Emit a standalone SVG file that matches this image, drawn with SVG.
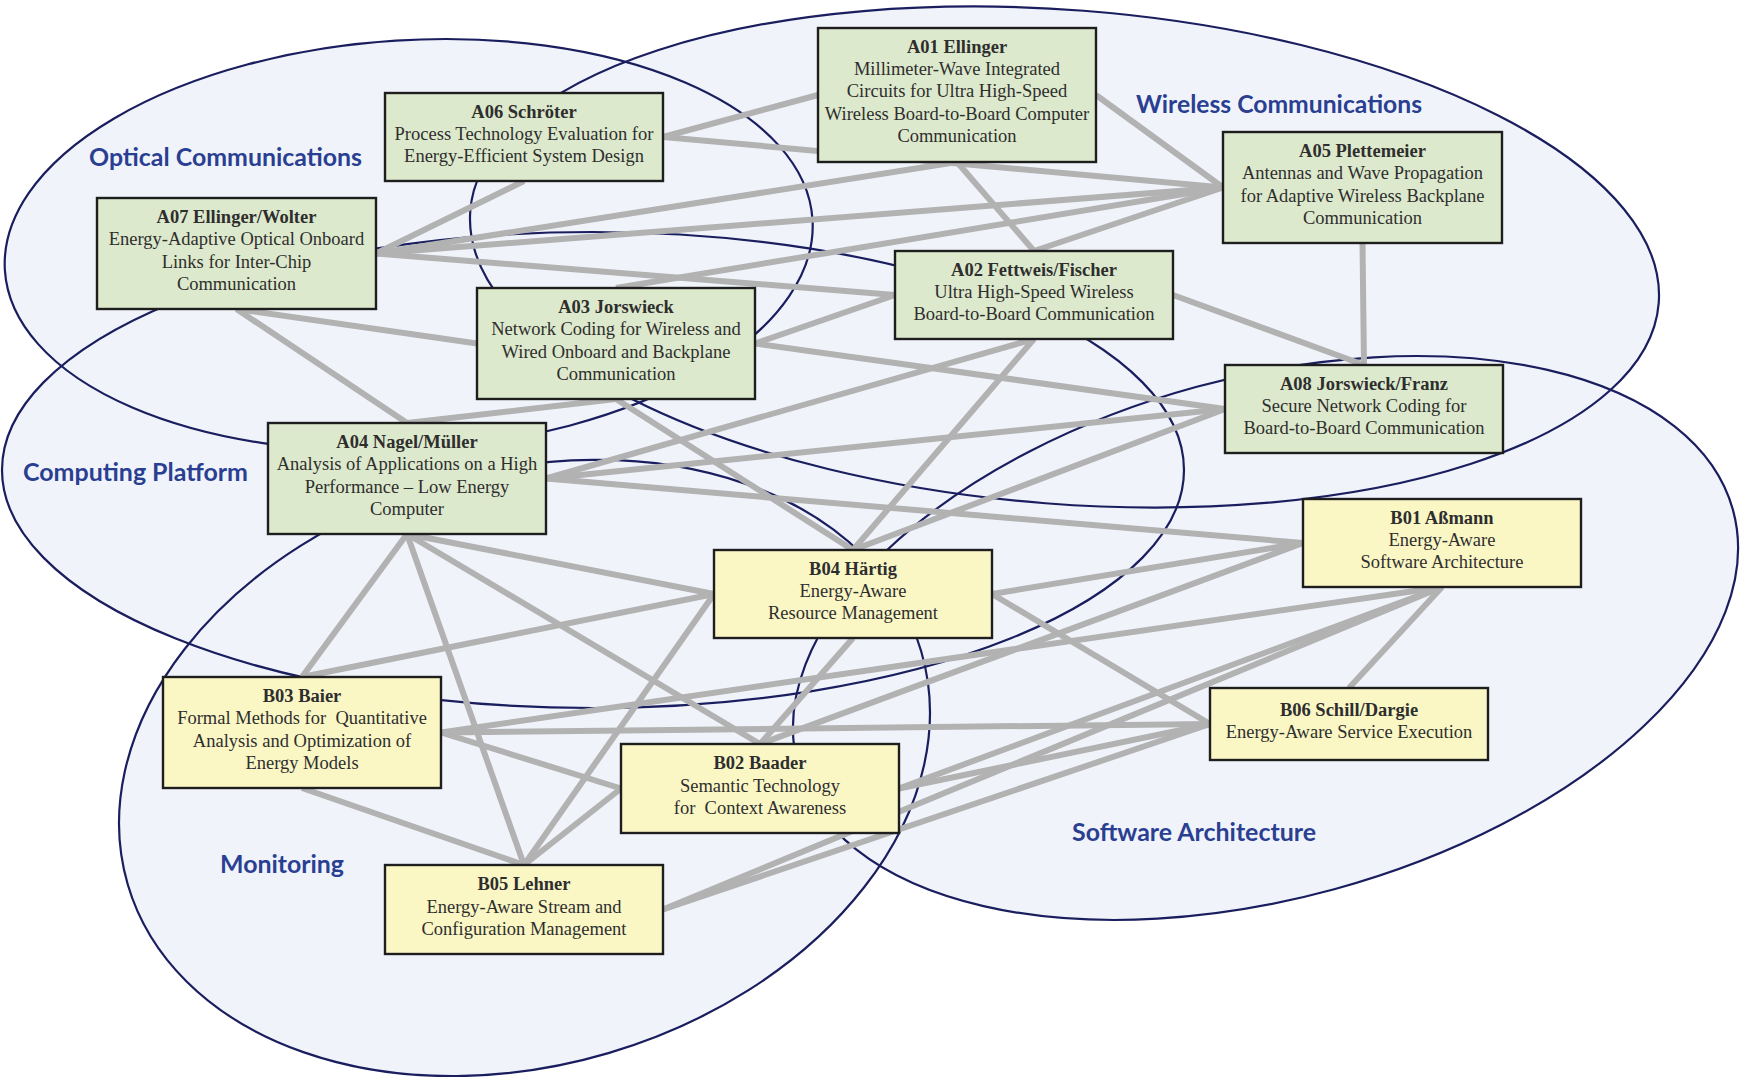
<svg xmlns="http://www.w3.org/2000/svg" width="1740" height="1077" viewBox="0 0 1740 1077">
  <style>
    .area { fill: #f0f4fa; stroke: none; }
    .rim { fill: none; stroke: #1b1e5e; stroke-width: 2.2; }
    .area-label { font-family: Lato, "Open Sans", sans-serif; font-weight: bold; font-size: 24px; fill: #2a3f92; }
    .link { stroke: #b2b2b2; stroke-width: 6; fill: none; }
    .box { stroke: #1e1e1e; stroke-width: 2.4; }
    .a { fill: #dde9cc; }
    .b { fill: #faf7c5; }
    .txt { font-family: "Liberation Serif", "Times New Roman", serif; font-size: 18.5px; fill: #2e2e2e; text-anchor: middle; }
    .ttl { font-weight: bold; }
  </style>
  <defs>
    <ellipse id="e-optical" cx="408.7" cy="245" rx="404.6" ry="204.8" transform="rotate(-3.6 408.7 245)"/>
    <ellipse id="e-wireless" cx="1064.5" cy="257" rx="596" ry="247" transform="rotate(4.44 1064.5 257)"/>
    <ellipse id="e-computing" cx="593" cy="470" rx="591" ry="238"/>
    <ellipse id="e-software" cx="1265.5" cy="638" rx="484.7" ry="260.5" transform="rotate(-15.3 1265.5 638)"/>
    <ellipse id="e-monitoring" cx="524.5" cy="768" rx="413.5" ry="297.2" transform="rotate(-16.4 524.5 768)"/>
  </defs>

  <rect width="1740" height="1077" fill="#ffffff"/>

  <!-- research areas: fills first, then outlines so every rim stays visible -->
  <g id="areas">
    <use href="#e-optical" class="area"/>
    <use href="#e-wireless" class="area"/>
    <use href="#e-computing" class="area"/>
    <use href="#e-software" class="area"/>
    <use href="#e-monitoring" class="area"/>
    <use href="#e-optical" class="rim"/>
    <use href="#e-wireless" class="rim"/>
    <use href="#e-computing" class="rim"/>
    <use href="#e-software" class="rim"/>
    <use href="#e-monitoring" class="rim"/>
  </g>

  <g id="area-labels">
    <text class="area-label" x="89" y="165.5" textLength="273" lengthAdjust="spacingAndGlyphs">Optical Communications</text>
    <text class="area-label" x="1136" y="112.5" textLength="286" lengthAdjust="spacingAndGlyphs">Wireless Communications</text>
    <text class="area-label" x="23" y="480.5" textLength="225" lengthAdjust="spacingAndGlyphs">Computing Platform</text>
    <text class="area-label" x="220" y="873" textLength="124" lengthAdjust="spacingAndGlyphs">Monitoring</text>
    <text class="area-label" x="1072" y="841" textLength="244" lengthAdjust="spacingAndGlyphs">Software Architecture</text>
  </g>

  <!-- project cooperations -->
  <g id="connectors" class="link">
    <line x1="663" y1="137" x2="818" y2="95"/>
    <line x1="663" y1="137" x2="1223" y2="187.5"/>
    <line x1="524" y1="181" x2="376" y2="253.5"/>
    <line x1="376" y1="253.5" x2="957" y2="162"/>
    <line x1="376" y1="253.5" x2="1223" y2="187.5"/>
    <line x1="376" y1="253.5" x2="895" y2="295"/>
    <line x1="236.5" y1="309" x2="477" y2="343.5"/>
    <line x1="236.5" y1="309" x2="407" y2="423"/>
    <line x1="957" y1="162" x2="1034" y2="251"/>
    <line x1="1096" y1="95" x2="1223" y2="187.5"/>
    <line x1="616" y1="288" x2="1223" y2="187.5"/>
    <line x1="1034" y1="251" x2="1223" y2="187.5"/>
    <line x1="1362.5" y1="243" x2="1364" y2="365"/>
    <line x1="1173" y1="295" x2="1364" y2="365"/>
    <line x1="755" y1="343.5" x2="895" y2="295"/>
    <line x1="755" y1="343.5" x2="1225" y2="409"/>
    <line x1="616" y1="399" x2="853" y2="550"/>
    <line x1="407" y1="423" x2="616" y2="399"/>
    <line x1="546" y1="478.5" x2="1034" y2="339"/>
    <line x1="546" y1="478.5" x2="1225" y2="409"/>
    <line x1="546" y1="478.5" x2="1303" y2="543"/>
    <line x1="1034" y1="339" x2="853" y2="550"/>
    <line x1="1225" y1="409" x2="853" y2="550"/>
    <line x1="407" y1="534" x2="302" y2="677"/>
    <line x1="407" y1="534" x2="714" y2="594"/>
    <line x1="407" y1="534" x2="760" y2="744"/>
    <line x1="407" y1="534" x2="524" y2="865"/>
    <line x1="302" y1="677" x2="714" y2="594"/>
    <line x1="714" y1="594" x2="524" y2="865"/>
    <line x1="992" y1="594" x2="1303" y2="543"/>
    <line x1="992" y1="594" x2="1210" y2="724"/>
    <line x1="853" y1="638" x2="760" y2="744"/>
    <line x1="441" y1="732.5" x2="1442" y2="587"/>
    <line x1="441" y1="732.5" x2="1210" y2="724"/>
    <line x1="441" y1="732.5" x2="621" y2="788.5"/>
    <line x1="302" y1="788" x2="524" y2="865"/>
    <line x1="760" y1="744" x2="1303" y2="543"/>
    <line x1="899" y1="788.5" x2="1210" y2="724"/>
    <line x1="899" y1="788.5" x2="1442" y2="587"/>
    <line x1="663" y1="909.5" x2="1210" y2="724"/>
    <line x1="663" y1="909.5" x2="1442" y2="587"/>
    <line x1="524" y1="865" x2="621" y2="788.5"/>
    <line x1="1442" y1="587" x2="1349" y2="688"/>
  </g>

  <!-- projects, area A (green) -->
  <g id="A01">
    <rect class="box a" x="818" y="28" width="278" height="134"/>
    <text class="txt"><tspan class="ttl" x="957" y="53.2">A01 Ellinger</tspan><tspan x="957" y="75.3">Millimeter-Wave Integrated</tspan><tspan x="957" y="97.4">Circuits for Ultra High-Speed</tspan><tspan x="957" y="119.5">Wireless Board-to-Board Computer</tspan><tspan x="957" y="141.6">Communication</tspan></text>
  </g>
  <g id="A06">
    <rect class="box a" x="385" y="93" width="278" height="88"/>
    <text class="txt"><tspan class="ttl" x="524" y="117.8">A06 Schröter</tspan><tspan x="524" y="140">Process Technology Evaluation for</tspan><tspan x="524" y="162.2">Energy-Efficient System Design</tspan></text>
  </g>
  <g id="A07">
    <rect class="box a" x="97" y="198" width="279" height="111"/>
    <text class="txt"><tspan class="ttl" x="236.5" y="223.2">A07 Ellinger/Wolter</tspan><tspan x="236.5" y="245.4">Energy-Adaptive Optical Onboard</tspan><tspan x="236.5" y="267.6">Links for Inter-Chip</tspan><tspan x="236.5" y="289.8">Communication</tspan></text>
  </g>
  <g id="A05">
    <rect class="box a" x="1223" y="132" width="279" height="111"/>
    <text class="txt"><tspan class="ttl" x="1362.5" y="157.2">A05 Plettemeier</tspan><tspan x="1362.5" y="179.4">Antennas and Wave Propagation</tspan><tspan x="1362.5" y="201.6">for Adaptive Wireless Backplane</tspan><tspan x="1362.5" y="223.8">Communication</tspan></text>
  </g>
  <g id="A02">
    <rect class="box a" x="895" y="251" width="278" height="88"/>
    <text class="txt"><tspan class="ttl" x="1034" y="275.8">A02 Fettweis/Fischer</tspan><tspan x="1034" y="298">Ultra High-Speed Wireless</tspan><tspan x="1034" y="320.2">Board-to-Board Communication</tspan></text>
  </g>
  <g id="A03">
    <rect class="box a" x="477" y="288" width="278" height="111"/>
    <text class="txt"><tspan class="ttl" x="616" y="313.2">A03 Jorswieck</tspan><tspan x="616" y="335.4">Network Coding for Wireless and</tspan><tspan x="616" y="357.6">Wired Onboard and Backplane</tspan><tspan x="616" y="379.8">Communication</tspan></text>
  </g>
  <g id="A08">
    <rect class="box a" x="1225" y="365" width="278" height="88"/>
    <text class="txt"><tspan class="ttl" x="1364" y="389.8">A08 Jorswieck/Franz</tspan><tspan x="1364" y="412">Secure Network Coding for</tspan><tspan x="1364" y="434.2">Board-to-Board Communication</tspan></text>
  </g>
  <g id="A04">
    <rect class="box a" x="268" y="423" width="278" height="111"/>
    <text class="txt"><tspan class="ttl" x="407" y="448.2">A04 Nagel/Müller</tspan><tspan x="407" y="470.4">Analysis of Applications on a High</tspan><tspan x="407" y="492.6">Performance – Low Energy</tspan><tspan x="407" y="514.8">Computer</tspan></text>
  </g>

  <!-- projects, area B (yellow) -->
  <g id="B01">
    <rect class="box b" x="1303" y="499" width="278" height="88"/>
    <text class="txt"><tspan class="ttl" x="1442" y="523.8">B01 Aßmann</tspan><tspan x="1442" y="546">Energy-Aware</tspan><tspan x="1442" y="568.2">Software Architecture</tspan></text>
  </g>
  <g id="B04">
    <rect class="box b" x="714" y="550" width="278" height="88"/>
    <text class="txt"><tspan class="ttl" x="853" y="574.8">B04 Härtig</tspan><tspan x="853" y="597">Energy-Aware</tspan><tspan x="853" y="619.2">Resource Management</tspan></text>
  </g>
  <g id="B03">
    <rect class="box b" x="163" y="677" width="278" height="111"/>
    <text class="txt" xml:space="preserve"><tspan class="ttl" x="302" y="702.2">B03 Baier</tspan><tspan x="302" y="724.4">Formal Methods for  Quantitative</tspan><tspan x="302" y="746.6">Analysis and Optimization of</tspan><tspan x="302" y="768.8">Energy Models</tspan></text>
  </g>
  <g id="B06">
    <rect class="box b" x="1210" y="688" width="278" height="72"/>
    <text class="txt"><tspan class="ttl" x="1349" y="715.9">B06 Schill/Dargie</tspan><tspan x="1349" y="738.1">Energy-Aware Service Execution</tspan></text>
  </g>
  <g id="B02">
    <rect class="box b" x="621" y="744" width="278" height="89"/>
    <text class="txt" xml:space="preserve"><tspan class="ttl" x="760" y="769.3">B02 Baader</tspan><tspan x="760" y="791.5">Semantic Technology</tspan><tspan x="760" y="813.7">for  Context Awareness</tspan></text>
  </g>
  <g id="B05">
    <rect class="box b" x="385" y="865" width="278" height="89"/>
    <text class="txt"><tspan class="ttl" x="524" y="890.3">B05 Lehner</tspan><tspan x="524" y="912.5">Energy-Aware Stream and</tspan><tspan x="524" y="934.7">Configuration Management</tspan></text>
  </g>
</svg>
